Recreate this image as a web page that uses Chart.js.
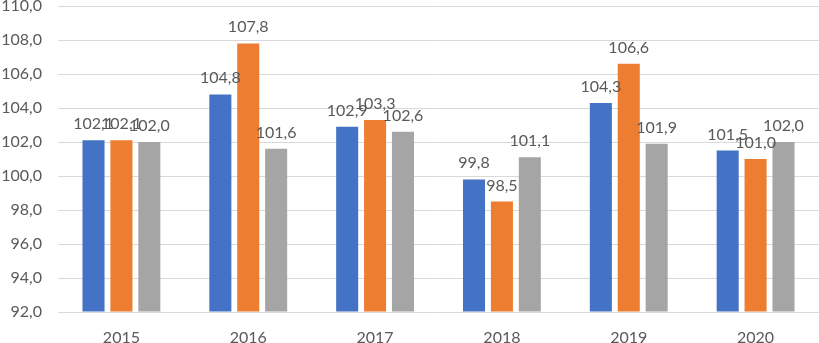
<!DOCTYPE html>
<html>
<head>
<meta charset="utf-8">
<script src="https://cdn.jsdelivr.net/npm/chart.js@4"></script>
<style>
  html, body { margin: 0; padding: 0; background: #fff; }
  #wrap { width: 819px; height: 343px; }
</style>
</head>
<body>
<div id="wrap"><canvas id="chart"></canvas></div>
<script>
const years = ["2015", "2016", "2017", "2018", "2019", "2020"];
const seriesA = [102.1, 104.8, 102.9, 99.8, 104.3, 101.5];
const seriesB = [102.1, 107.8, 103.3, 98.5, 106.6, 101.0];
const seriesC = [102.0, 101.6, 102.6, 101.1, 101.9, 102.0];
const yMin = 92;
const yMax = 110;
const yStep = 2;

const fmt = v => v.toFixed(1).replace(".", ",");
const textColor = "#595959";
const fontFamily = "Lato, 'Open Sans', sans-serif";

// value labels above each bar, like Excel's data labels
const barLabels = {
  id: "barLabels",
  afterDatasetsDraw(chart) {
    const ctx = chart.ctx;
    ctx.save();
    ctx.font = "16px " + fontFamily;
    ctx.fillStyle = textColor;
    ctx.textAlign = "center";
    ctx.textBaseline = "alphabetic";
    chart.data.datasets.forEach((ds, i) => {
      chart.getDatasetMeta(i).data.forEach((bar, j) => {
        ctx.fillText(fmt(ds.data[j]), bar.x, bar.y - 11);
      });
    });
    ctx.restore();
  }
};

new Chart(document.getElementById("chart"), {
  type: "bar",
  data: {
    labels: years,
    datasets: [
      { data: seriesA, backgroundColor: "#4472C4" },
      { data: seriesB, backgroundColor: "#ED7D31" },
      { data: seriesC, backgroundColor: "#A5A5A5" }
    ]
  },
  options: {
    responsive: true,
    maintainAspectRatio: false,
    animation: false,
    layout: { padding: { top: 6, right: 0, left: 0, bottom: 0 } },
    datasets: { bar: { categoryPercentage: 0.66, barPercentage: 0.79, base: yMin } },
    plugins: { legend: { display: false }, tooltip: { enabled: false } },
    scales: {
      x: {
        grid: { display: false },
        border: { display: false },
        ticks: { color: textColor, font: { family: fontFamily, size: 16 }, padding: 8 },
        afterFit(scale) { scale.height = 31; scale.paddingLeft = 0; scale.paddingRight = 0; }
      },
      y: {
        min: yMin,
        max: yMax,
        border: { display: false },
        grid: { color: "#D9D9D9", drawTicks: false },
        ticks: {
          stepSize: yStep,
          color: textColor,
          font: { family: fontFamily, size: 16 },
          padding: 16,
          callback: v => fmt(v)
        },
        afterFit(scale) { scale.width = 58; scale.paddingTop = 0; scale.paddingBottom = 0; }
      }
    }
  },
  plugins: [barLabels]
});
</script>
</body>
</html>
